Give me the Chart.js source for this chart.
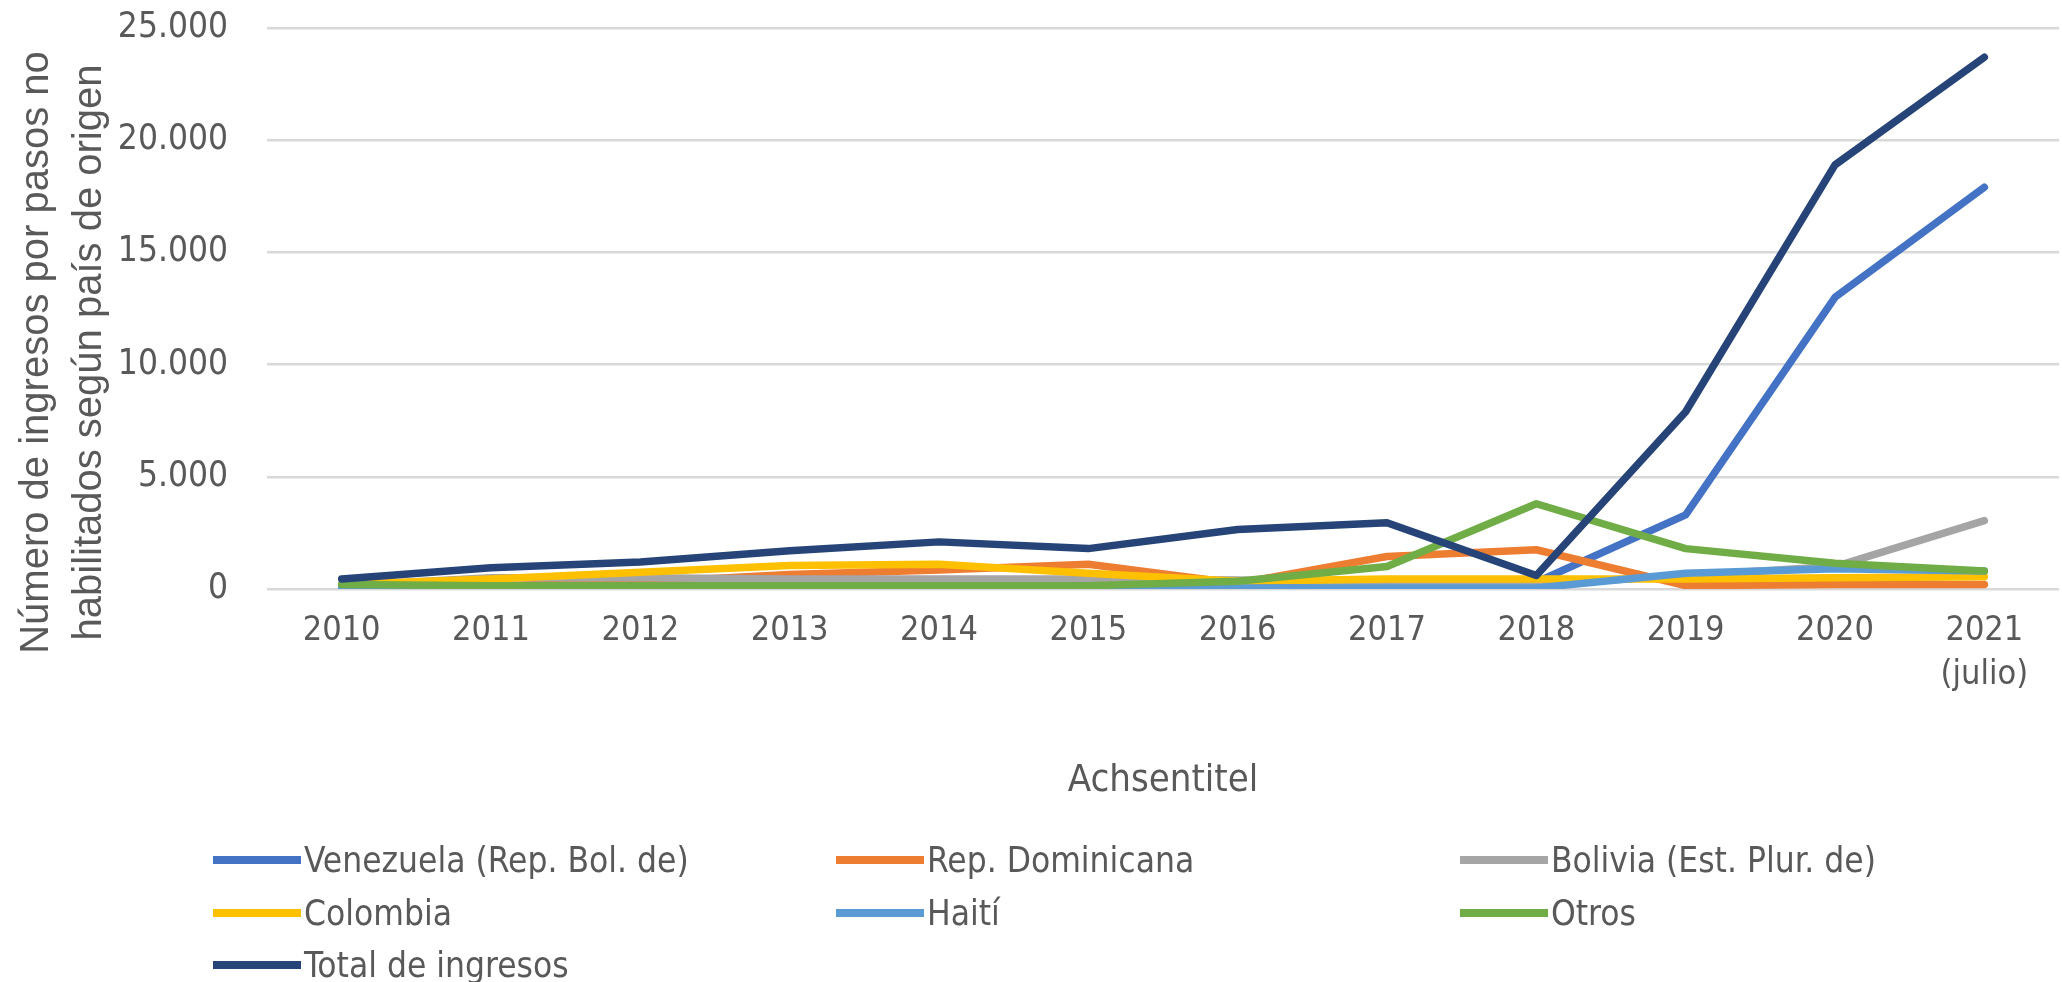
<!DOCTYPE html>
<html lang="es">
<head>
<meta charset="utf-8">
<title>Ingresos por pasos no habilitados</title>
<script src="https://cdn.jsdelivr.net/npm/chart.js@4.4.1/dist/chart.umd.min.js"></script>
<style>
  html, body { margin: 0; padding: 0; background: #ffffff; }
  #wrap { position: relative; width: 2062px; height: 982px; overflow: hidden; }
  #chartBox { position: absolute; left: 0; top: 0; width: 2062px; height: 830px; }
  #legend { position: absolute; left: 0; top: 0; width: 2062px; height: 982px; pointer-events: none; }
  .legend-item { position: absolute; display: flex; align-items: center; height: 52px;
    font-family: "DejaVu Sans Condensed", "Liberation Sans", sans-serif; font-size: 35px; color: #595959; white-space: nowrap; }
  .legend-line { width: 88px; height: 8px; margin-right: 3px; }
</style>
</head>
<body>
<div id="wrap">
  <div id="chartBox"><canvas id="combinedChart"></canvas></div>
  <div id="legend"></div>
</div>
<script>
const FONT_NARROW = "'DejaVu Sans Condensed', 'Liberation Sans', sans-serif";
const FONT_WIDE = "'Liberation Sans', 'DejaVu Sans', sans-serif";
const TEXT_COLOR = "#595959";

const years = ["2010", "2011", "2012", "2013", "2014", "2015", "2016", "2017", "2018", "2019", "2020", ["2021", "(julio)"]];

const venezuela = [30, 40, 50, 50, 60, 60, 60, 60, 300, 3300, 13000, 17900];
const repDominicana = [100, 150, 300, 650, 850, 1100, 250, 1450, 1750, 150, 200, 200];
const bolivia = [150, 500, 500, 450, 450, 450, 400, 300, 200, 600, 1000, 3050];
const colombia = [200, 450, 750, 1050, 1100, 700, 350, 450, 450, 450, 500, 550];
const haiti = [50, 50, 50, 50, 50, 50, 50, 50, 50, 700, 900, 800];
const otros = [200, 150, 150, 150, 150, 150, 350, 1000, 3800, 1800, 1150, 800];
const totalIngresos = [450, 950, 1200, 1700, 2100, 1800, 2650, 2950, 600, 7900, 18900, 23700];

const seriesNames = ["Venezuela (Rep. Bol. de)", "Rep. Dominicana", "Bolivia (Est. Plur. de)", "Colombia", "Haití", "Otros", "Total de ingresos"];
const seriesColors = ["#4472c4", "#ed7d31", "#a5a5a5", "#ffc000", "#5b9bd5", "#70ad47", "#264478"];
const seriesValues = [venezuela, repDominicana, bolivia, colombia, haiti, otros, totalIngresos];

const yTitleLines = ["Número de ingresos por pasos no", "habilitados según país de origen"];
const xTitle = "Achsentitel";

function formatThousands(value) {
  return String(value).replace(/\B(?=(\d{3})+(?!\d))/g, ".");
}

// rotated two-line y title, placed like the original (a bit below the plot centre)
const yTitlePlugin = {
  id: "yTitle",
  afterDraw(chart) {
    const { ctx, chartArea } = chart;
    const cy = (chartArea.top + chartArea.bottom) / 2 + 44;
    ctx.save();
    ctx.fillStyle = TEXT_COLOR;
    ctx.font = "40px " + FONT_WIDE;
    ctx.textAlign = "center";
    ctx.textBaseline = "middle";
    [37, 90].forEach((x, i) => {
      ctx.save();
      ctx.translate(x, cy);
      ctx.rotate(-Math.PI / 2);
      ctx.fillText(yTitleLines[i], 0, 0);
      ctx.restore();
    });
    ctx.restore();
  }
};

function buildLegend(chart) {
  const legendEl = document.getElementById("legend");
  legendEl.innerHTML = "";
  const columns = [213, 836, 1460];
  const rows = [860, 913, 965];
  chart.data.datasets.forEach((ds, i) => {
    const item = document.createElement("div");
    item.className = "legend-item";
    item.style.left = columns[i % 3] + "px";
    item.style.top = (rows[Math.floor(i / 3)] - 26) + "px";
    const line = document.createElement("span");
    line.className = "legend-line";
    line.style.background = ds.borderColor;
    const label = document.createElement("span");
    label.textContent = ds.label;
    item.appendChild(line);
    item.appendChild(label);
    legendEl.appendChild(item);
  });
}

function renderChart() {
  const datasets = seriesNames.map((name, i) => ({
    label: name,
    data: seriesValues[i],
    borderColor: seriesColors[i],
    backgroundColor: seriesColors[i],
    borderWidth: 7.5,
    pointRadius: 0,
    pointHoverRadius: 0,
    tension: 0,
    borderCapStyle: "round",
    borderJoinStyle: "round",
    order: seriesNames.length - 1 - i
  }));

  const chart = new Chart(document.getElementById("combinedChart"), {
    type: "line",
    data: { labels: years, datasets },
    options: {
      responsive: true,
      maintainAspectRatio: false,
      animation: false,
      layout: { padding: { top: 28, right: 3, bottom: 26, left: 0 } },
      plugins: {
        legend: { display: false },
        tooltip: { enabled: false }
      },
      scales: {
        x: {
          offset: true,
          grid: { display: false, drawTicks: false },
          border: { display: false },
          ticks: {
            color: TEXT_COLOR,
            font: { family: FONT_NARROW, size: 34, lineHeight: 1.3 },
            padding: 20,
            maxRotation: 0,
            autoSkip: false
          },
          title: {
            display: true,
            text: xTitle,
            color: TEXT_COLOR,
            font: { family: FONT_NARROW, size: 38, lineHeight: 1.2 },
            padding: { top: 41, bottom: 0 }
          },
          afterFit(scale) {
            scale.paddingLeft = 0;
            scale.paddingRight = 0;
          }
        },
        y: {
          min: 0,
          max: 25000,
          grid: { color: "#d9d9d9", lineWidth: 2.5, drawTicks: false },
          border: { display: false },
          ticks: {
            stepSize: 5000,
            color: TEXT_COLOR,
            font: { family: FONT_NARROW, size: 35, lineHeight: 1.1 },
            padding: 39,
            callback: (value) => formatThousands(value)
          },
          afterFit(scale) {
            scale.width = 267;
            scale.paddingTop = 0;
            scale.paddingBottom = 0;
          }
        }
      }
    },
    plugins: [yTitlePlugin]
  });

  buildLegend(chart);
}

renderChart();
</script>
</body>
</html>
